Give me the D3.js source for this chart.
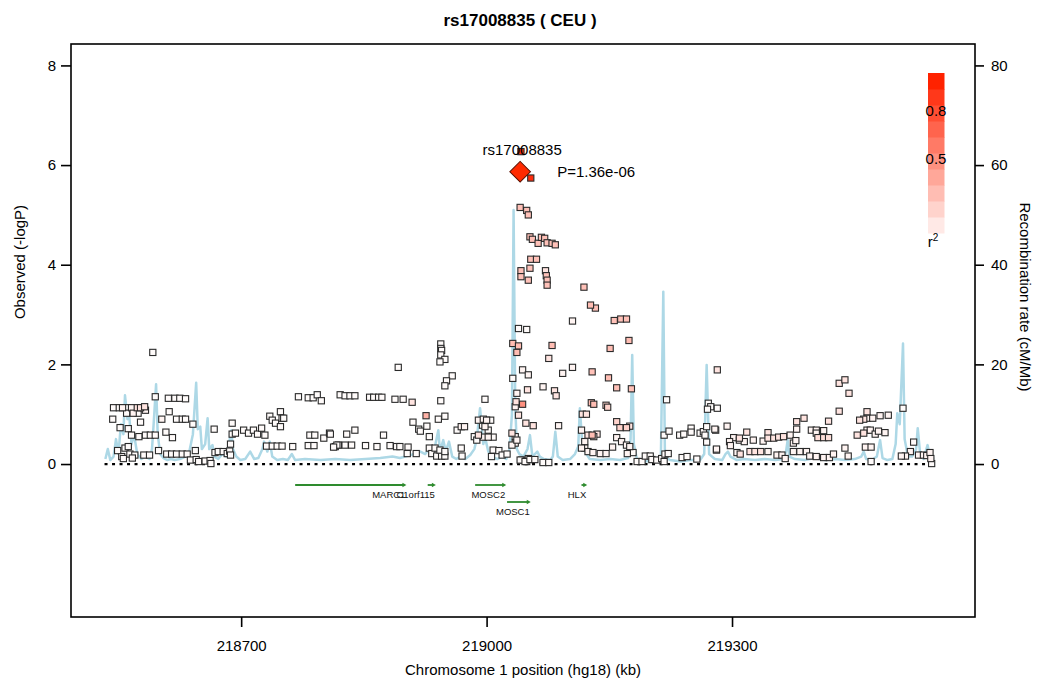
<!DOCTYPE html>
<html>
<head>
<meta charset="utf-8">
<script src="https://cdn.jsdelivr.net/npm/d3@7"></script>
<style>
  body { margin: 0; background: #fff; }
  text { font-family: "Liberation Sans", Arial, Helvetica, sans-serif; }
</style>
</head>
<body>
<div id="chart"></div>
<script>
// ---- data ----
const xTicks = [218700, 219000, 219300];
const yTicks = [0, 2, 4, 6, 8];
const recTicks = [0, 20, 40, 60, 80];
const legendTicks = [0.8, 0.5];

const indexSnp = { name: "rs17008835", pos: 219041, p: 1.36e-6 };

// [position kb, -log10 P, r2]
const snps = [
  [218592,2.24,.02],[218595,1.35,.02],
  [218544,1.13,.02],[218551,1.13,.02],[218555,1.13,.05],[218560,1.13,.02],[218566,1.13,.05],[218573,1.13,.12],[218577,1.13,.12],[218581,1.13,.05],
  [218543,.90,.02],[218552,.73,.02],[218562,.71,.02],[218566,.58,.02],[218575,.55,.02],[218583,.58,.02],[218589,.58,.02],[218595,.58,.02],
  [218577,.84,.02],[218560,1.02,.02],[218568,1.02,.05],[218574,1.02,.02],[218582,1.15,.12],[218583,1.08,.05],
  [218558,.32,.02],[218562,.35,.02],[218554,.15,.02],[218556,.11,.02],[218564,.20,.02],[218570,.18,.02],
  [218549,.27,.02],[218567,.12,.02],[218581,.18,.02],
  [218611,1.32,.02],[218619,1.32,.02],[218625,1.32,.02],[218632,1.31,.02],
  [218612,1.05,.02],[218603,.90,.05],[218621,.90,.02],[218628,.90,.02],[218632,.90,.02],[218641,.80,.02],
  [218608,.64,.02],[218616,.53,.02],[218588,.18,.02],[218599,.27,.02],
  [218609,.20,.02],[218615,.20,.02],[218621,.20,.02],[218628,.20,.02],[218634,.20,.02],
  [218638,.08,.02],[218645,.09,.02],[218648,.05,.02],[218656,.06,.02],[218662,.07,.02],[218663,.01,.02],
  [218644,.27,.02],[218667,.70,.02],
  [218668,.23,.02],[218672,.25,.02],[218678,.25,.02],[218683,.21,.02],[218686,.26,.02],[218687,.18,.02],
  [218689,.82,.02],[218689,.60,.02],[218693,.62,.02],[218687,.40,.02],
  [218703,.68,.02],[218709,.62,.02],[218715,.68,.02],[218720,.60,.02],[218725,.72,.02],[218729,.58,.02],
  [218735,.96,.02],[218738,.88,.02],[218742,.82,.02],[218748,1.05,.02],[218750,.92,.02],[218752,.92,.02],[218748,.75,.02],
  [218731,.36,.02],[218738,.36,.02],[218744,.36,.02],[218750,.36,.02],[218763,.35,.02],
  [218770,1.35,.02],[218782,1.33,.02],[218788,1.33,.02],[218793,1.39,.02],[218798,1.27,.02],
  [218784,.58,.02],[218790,.58,.02],[218782,.37,.02],[218789,.37,.02],[218801,.52,.02],[218808,.62,.02],
  [218815,.35,.02],[218819,.38,.02],[218821,1.39,.02],
  [218944,2.41,.02],[218944,2.32,.02],[218945,2.28,.02],[218944,2.19,.02],[218949,2.10,.02],[218943,2.05,.02],
  [218892,1.94,.02],[218958,1.77,.02],[218951,1.67,.02],[218949,1.57,.02],
  [218827,1.37,.02],[218833,1.37,.02],[218839,1.37,.02],
  [218857,1.34,.02],[218862,1.34,.02],[218868,1.34,.02],[218872,1.34,.02],
  [218888,1.30,.02],[218898,1.30,.02],[218909,1.24,.12],[218944,1.27,.02],[218998,1.30,.02],
  [218926,.97,.35],[218910,.84,.02],[218917,.70,.02],[218919,.66,.02],[218927,.76,.02],[218930,.55,.02],
  [218941,.90,.02],[218949,.96,.02],[218964,.68,.02],[218969,.75,.05],[218973,.75,.05],
  [218990,.88,.05],[218996,.90,.05],[219000,.88,.05],[219005,.88,.02],[218995,.78,.02],[218998,.75,.05],[219002,.68,.02],
  [218985,.55,.02],[218990,.58,.12],[218996,.54,.05],[219002,.54,.05],[219008,.54,.02],[218988,.48,.02],
  [218809,.60,.02],[218817,.38,.02],[218813,.34,.02],[218827,.38,.02],[218829,.60,.02],[218835,.38,.02],[218839,.68,.02],
  [218852,.37,.02],[218866,.35,.02],[218874,.58,.02],[218882,.37,.02],[218890,.35,.02],[218894,.35,.02],[218904,.34,.02],[218903,.21,.02],[218914,.21,.02],
  [218930,.32,.02],[218933,.21,.02],[218937,.32,.02],[218939,.16,.02],[218945,.16,.02],[218949,.16,.02],[218943,.28,.02],[218949,.25,.02],
  [218969,.32,.02],[218970,.16,.02],
  [219008,.28,.02],[219015,.27,.02],[219019,.18,.02],[219006,.15,.02],[219025,.20,.02],
  [219032,2.42,.3],[219039,2.37,.3],[219037,2.24,.3],[219032,1.72,.02],[219044,1.89,.05],
  [219037,1.42,.05],[219036,1.25,.12],[219035,1.15,.05],[219044,1.20,.5],[219039,.98,.12],
  [219031,.62,.12],[219035,.55,.05],[219035,.42,.05],[219031,.38,.05],[219037,.48,.05],
  [219043,.08,.02],[219049,.05,.02],[219051,.11,.02],
  [219039,2.72,.02],[219049,2.70,.02],
  [219041,5.15,.28],[219049,5.09,.28],[219051,5.00,.28],
  [219053,4.56,.28],[219056,4.51,.28],[219063,4.43,.28],[219067,4.55,.28],[219071,4.53,.28],[219074,4.44,.28],[219080,4.43,.28],[219084,4.40,.28],
  [219054,4.11,.28],[219061,4.11,.28],
  [219042,3.88,.28],[219042,3.76,.28],[219051,3.69,.28],[219053,3.93,.28],
  [219072,3.88,.12],[219073,3.78,.28],[219074,3.69,.28],[219074,3.59,.28],
  [219119,3.55,.28],[219127,3.19,.3],[219133,3.13,.28],[219105,2.87,.05],
  [219156,2.88,.28],[219164,2.91,.28],[219171,2.91,.28],
  [219174,2.48,.3],[219080,2.38,.3],[219151,2.32,.3],[219076,2.12,.12],[219105,1.94,.05],[219093,1.82,.05],[219129,1.85,.28],[219051,1.79,.05],
  [219149,1.73,.3],[219159,1.53,.28],[219177,1.51,.28],[219069,1.55,.05],[219050,1.49,.12],[219083,1.47,.12],[219085,1.37,.12],
  [219128,1.23,.3],[219131,1.20,.3],[219146,1.18,.2],[219148,1.14,.2],[219117,1.00,.12],[219122,1.00,.12],
  [219159,.85,.2],[219163,.73,.2],[219171,.73,.2],[219175,.76,.12],[219088,.77,.05],[219048,.82,.12],[219057,.77,.12],
  [219116,.68,.05],[219124,.58,.12],[219129,.58,.3],[219135,.60,.12],[219131,.55,.12],
  [219159,.53,.05],[219165,.45,.05],[219171,.38,.05],[219175,.35,.05],[219172,.21,.05],
  [219120,.45,.05],[219120,.32,.05],[219116,.32,.05],[219124,.25,.05],[219130,.23,.05],[219139,.21,.05],[219146,.21,.05],[219154,.34,.05],
  [219179,.23,.02],[219184,.05,.02],[219190,.05,.02],[219194,.16,.02],[219200,.16,.02],[219202,.09,.02],[219208,.08,.02],[219214,.11,.02],[219218,.20,.02],[219222,.21,.02],[219217,.05,.02],
  [219220,1.29,.02],
  [219217,.58,.02],[219223,.66,.02],[219236,.58,.02],[219241,.60,.02],[219250,.72,.02],[219250,.64,.02],[219261,.62,.02],[219265,.65,.02],[219269,.75,.02],[219267,.58,.02],[219269,.44,.02],[219280,.68,.05],[219281,.28,.02],
  [219239,.13,.02],[219245,.15,.02],[219257,.10,.02],
  [219282,1.89,.12],
  [219041,.08,.02],[219047,.05,.02],[219053,.09,.02],[219059,.09,.02],[219069,.03,.02],[219076,.03,.02],
  [219431,1.62,.12],[219438,1.69,.12],[219443,1.42,.12],
  [219271,1.22,.02],[219274,1.15,.02],[219282,1.12,.02],[219270,1.10,.02],
  [219431,1.06,.12],
  [219465,1.05,.12],[219461,.90,.12],[219456,.88,.12],[219465,.92,.05],[219472,.92,.05],[219481,.97,.05],[219491,.98,.05],
  [219509,1.12,.02],[219418,.86,.12],
  [219379,.85,.12],[219388,.92,.12],[219379,.70,.05],[219397,.68,.05],[219403,.68,.05],[219412,.67,.05],
  [219294,.76,.05],[219279,.70,.05],
  [219318,.64,.12],[219302,.53,.05],[219309,.52,.12],[219297,.45,.05],[219298,.37,.05],[219309,.48,.05],[219315,.45,.05],[219326,.48,.05],
  [219338,.46,.05],[219344,.63,.12],[219344,.52,.12],[219351,.52,.12],[219357,.54,.12],[219363,.55,.12],[219371,.58,.05],[219375,.42,.05],[219378,.47,.05],
  [219405,.53,.15],[219412,.53,.15],[219418,.53,.15],[219403,.62,.05],
  [219453,.58,.12],[219461,.62,.12],[219465,.68,.05],[219469,.68,.05],[219475,.60,.05],[219479,.66,.05],[219487,.63,.05],
  [219281,.30,.05],
  [219306,.23,.05],[219310,.20,.12],[219322,.25,.12],[219328,.25,.12],[219335,.25,.12],[219344,.25,.05],
  [219355,.18,.05],[219361,.18,.05],[219365,.11,.05],
  [219375,.25,.05],[219383,.25,.05],[219391,.25,.05],[219395,.16,.05],[219403,.15,.05],[219412,.13,.05],[219419,.13,.05],[219424,.20,.05],
  [219438,.32,.05],[219442,.16,.05],[219463,.34,.05],[219470,.34,.05],[219470,.05,.02],
  [219522,.44,.02],[219518,.25,.05],[219512,.16,.05],[219507,.16,.05],[219528,.18,.05],[219534,.18,.05],[219538,.17,.05],[219542,.23,.05],[219543,.11,.05],[219544,.01,.02],
  // strong proxies of the index SNP
  [219042,6.27,.95],[219054,5.74,.95]
];

// [position kb, recombination rate cM/Mb]
const recomb = [
  [218534,1],[218537,3],[218540,.8],[218544,1.5],[218547,5],[218550,2],[218553,8],[218556,6],[218558,13.8],[218561,9],
  [218563,10],[218566,4],[218569,6],[218573,2],[218578,1],[218583,1.5],[218588,1],[218591,3],[218593,8],[218596,16],
  [218598,6],[218601,2],[218605,1.2],[218610,.8],[218614,1],[218619,.8],[218625,1],[218632,1.5],[218636,2],[218641,6],
  [218645,16.3],[218647,7],[218650,7.5],[218652,3],[218656,4],[218659,9.2],[218661,3],[218665,3.8],[218667,1.5],[218672,1],
  [218677,2],[218682,1.5],[218685,4],[218688,6.8],[218690,3],[218694,1.5],[218699,.8],[218705,1],[218711,2.5],[218716,1],
  [218721,1.2],[218726,3],[218728,4.5],[218732,2.5],[218735,4.5],[218738,1.5],[218744,.8],[218751,1],[218757,.8],[218762,2],
  [218766,.8],[218778,1],[218797,.8],[218815,1],[218833,.8],[218852,1],[218870,1.2],[218885,1.5],[218894,1.2],[218907,1.8],
  [218919,2.5],[218925,2],[218931,3.5],[218935,2],[218941,6.8],[218943,2.5],[218947,4.8],[218950,2.5],[218954,4.5],[218958,1.5],
  [218963,1],[218968,1.5],[218974,1],[218980,1.8],[218985,3],[218988,5],[218992,11.2],[218996,4],[218998,5.5],[219002,2.5],
  [219007,1.5],[219013,1],[219019,1.5],[219024,1],[219028,3],[219031,10],[219033,51],[219035,12],[219037,3],[219040,2],
  [219045,1.5],[219050,3],[219053,5.8],[219056,1.5],[219062,2.5],[219065,1.5],[219070,1],[219078,.8],[219081,1.5],[219084,6.5],
  [219087,1.5],[219093,.8],[219102,1],[219108,2],[219112,3.5],[219114,11.2],[219117,4],[219122,2],[219126,1],[219139,.8],
  [219151,1],[219163,.8],[219173,1.2],[219176,5],[219178,21.9],[219180,4],[219184,.8],[219194,.5],[219206,.8],[219213,1],
  [219216,34.6],[219218,1.5],[219224,.8],[219237,.5],[219249,.8],[219261,.8],[219266,2],[219269,19.9],[219272,2],[219279,1],
  [219288,.8],[219292,2],[219295,2.5],[219298,1.5],[219306,.8],[219315,1],[219328,.8],[219340,1],[219353,.8],[219363,1],
  [219366,2.5],[219368,4.8],[219370,1.5],[219377,1],[219389,.8],[219401,1.2],[219414,.8],[219426,1],[219438,.8],[219450,1],
  [219458,1.5],[219461,2.5],[219464,1],[219471,.8],[219477,1.5],[219481,4.8],[219484,1.2],[219490,.8],[219496,1],[219500,4],
  [219502,10.2],[219505,8],[219509,24.2],[219511,5],[219515,1.5],[219520,1.5],[219525,3],[219527,7.2],[219530,2],[219534,1],
  [219539,3.8],[219542,1.5],[219547,1]
];

const geneNames = ["MARC1", "C1orf115", "MOSC2", "MOSC1", "HLX"];
const geneStart = [218766, 218928, 218986, 219025, 219116];
const geneEnd   = [218902, 218938, 219024, 219054, 219123];
const geneRow   = [0, 0, 0, 1, 0];

// ---- layout ----
const W = 1039, H = 686;
const box = { left: 71, right: 975, top: 44, bottom: 617 };
const fs = "15px";

const svg = d3.select("#chart").append("svg")
  .attr("width", W).attr("height", H);

const x = d3.scaleLinear().domain([218492, 219597]).range([box.left, box.right]);
const y = d3.scaleLinear().domain([-3.07, 8.43]).range([box.bottom, box.top]);
// recombination axis: 80 cM/Mb sits level with -logP 8
const yr = d3.scaleLinear().domain([-30.7, 84.3]).range([box.bottom, box.top]);
const r2color = d3.scaleLinear().domain([0, 1]).range(["#ffffff", "#ff2200"]);

// title
svg.append("text")
  .attr("x", 520).attr("y", 26)
  .attr("text-anchor", "middle")
  .style("font-size", "17px").style("font-weight", "bold")
  .text(`${indexSnp.name} ( CEU )`);

// recombination rate line
svg.append("path")
  .datum(recomb)
  .attr("fill", "none")
  .attr("stroke", "#add8e6")
  .attr("stroke-width", 2.5)
  .attr("stroke-linejoin", "round")
  .attr("d", d3.line().x(d => x(d[0])).y(d => yr(d[1])));

// dotted zero line
svg.append("line")
  .attr("x1", x(218533)).attr("x2", x(219548))
  .attr("y1", y(0)).attr("y2", y(0))
  .attr("stroke", "#000")
  .attr("stroke-width", 2.2)
  .attr("stroke-dasharray", "3,4.5");

// SNP squares
const sq = 6.2;
svg.append("g").selectAll("rect")
  .data(snps.slice().sort((a, b) => a[2] - b[2]))
  .join("rect")
  .attr("x", d => x(d[0]) - sq / 2)
  .attr("y", d => y(d[1]) - sq / 2)
  .attr("width", sq).attr("height", sq)
  .attr("fill", d => r2color(d[2]))
  .attr("stroke", "#2a2a2a")
  .attr("stroke-width", 1.1);

// index SNP diamond
const ix = x(indexSnp.pos), iy = y(-Math.log10(indexSnp.p));
svg.append("rect")
  .attr("x", -7.3).attr("y", -7.3)
  .attr("width", 14.6).attr("height", 14.6)
  .attr("transform", `translate(${ix},${iy}) rotate(45)`)
  .attr("fill", "#ff2a00")
  .attr("stroke", "#5a1000")
  .attr("stroke-width", 1);

svg.append("text")
  .attr("x", ix + 2).attr("y", iy - 16.5)
  .attr("text-anchor", "middle")
  .style("font-size", fs)
  .text(indexSnp.name);

svg.append("text")
  .attr("x", ix + 37).attr("y", iy + 5)
  .style("font-size", fs)
  .text(`P=${indexSnp.p.toExponential(2).replace("e-", "e-0")}`);

// genes
const geneColor = "#2e8b2e";
const rowY = [485, 502];
const genes = geneNames.map((n, i) => ({ name: n, start: geneStart[i], end: geneEnd[i], row: geneRow[i] }));
const gg = svg.append("g");
gg.selectAll("line")
  .data(genes)
  .join("line")
  .attr("x1", d => x(d.start)).attr("x2", d => x(d.end) - 2)
  .attr("y1", d => rowY[d.row]).attr("y2", d => rowY[d.row])
  .attr("stroke", geneColor).attr("stroke-width", 1.8);
gg.selectAll("path")
  .data(genes)
  .join("path")
  .attr("d", d => {
    const ex = x(d.end), ey = rowY[d.row];
    return `M${ex - 4},${ey - 2.2}L${ex},${ey}L${ex - 4},${ey + 2.2}Z`;
  })
  .attr("fill", geneColor);
gg.selectAll("text")
  .data(genes)
  .join("text")
  .attr("x", d => x(d.end) - 1)
  .attr("y", d => rowY[d.row] + 13)
  .attr("text-anchor", "end")
  .style("font-size", "9.5px")
  .style("fill", "#111")
  .text(d => d.name);

// plot box
svg.append("rect")
  .attr("x", box.left).attr("y", box.top)
  .attr("width", box.right - box.left).attr("height", box.bottom - box.top)
  .attr("fill", "none").attr("stroke", "#000").attr("stroke-width", 1.6);

// axes
function styleAxis(g) {
  g.select(".domain").remove();
  g.selectAll(".tick line").attr("stroke", "#000").attr("stroke-width", 1.6);
  g.selectAll(".tick text").style("font-size", fs)
    .style("font-family", '"Liberation Sans", Arial, sans-serif').attr("fill", "#000");
}

svg.append("g")
  .attr("transform", `translate(${box.left},0)`)
  .call(d3.axisLeft(y).tickValues(yTicks).tickSize(10).tickPadding(5))
  .call(styleAxis);

svg.append("g")
  .attr("transform", `translate(${box.right},0)`)
  .call(d3.axisRight(yr).tickValues(recTicks).tickSize(9).tickPadding(7))
  .call(styleAxis);

svg.append("g")
  .attr("transform", `translate(0,${box.bottom})`)
  .call(d3.axisBottom(x).tickValues(xTicks).tickFormat(d3.format("d")).tickSize(10).tickPadding(13))
  .call(styleAxis);

// axis titles
svg.append("text")
  .attr("x", 523).attr("y", 675)
  .attr("text-anchor", "middle")
  .style("font-size", fs)
  .text("Chromosome 1 position (hg18) (kb)");

svg.append("text")
  .attr("transform", "translate(25,262) rotate(-90)")
  .attr("text-anchor", "middle")
  .style("font-size", fs)
  .text("Observed (-logP)");

svg.append("text")
  .attr("transform", "translate(1020,297) rotate(90)")
  .attr("text-anchor", "middle")
  .style("font-size", fs)
  .text("Recombination rate (cM/Mb)");

// r2 legend
const ly = d3.scaleLinear().domain([0, 1]).range([233, 73]);
const bands = d3.range(10);
svg.append("g").selectAll("rect")
  .data(bands)
  .join("rect")
  .attr("x", 928).attr("width", 16.5)
  .attr("y", i => ly((i + 1) / 10))
  .attr("height", ly(0) - ly(0.1) + 0.5)
  .attr("fill", i => r2color((i + 1) / 10));

svg.append("g").selectAll("text")
  .data(legendTicks)
  .join("text")
  .attr("x", 936).attr("y", d => ly(d) + 11)
  .attr("text-anchor", "middle")
  .style("font-size", fs)
  .text(d => d);

const r2lab = svg.append("text")
  .attr("x", 933).attr("y", 247)
  .attr("text-anchor", "middle")
  .style("font-size", fs);
r2lab.append("tspan").text("r");
r2lab.append("tspan").attr("dy", -6).style("font-size", "10px").text("2");
</script>
</body>
</html>
